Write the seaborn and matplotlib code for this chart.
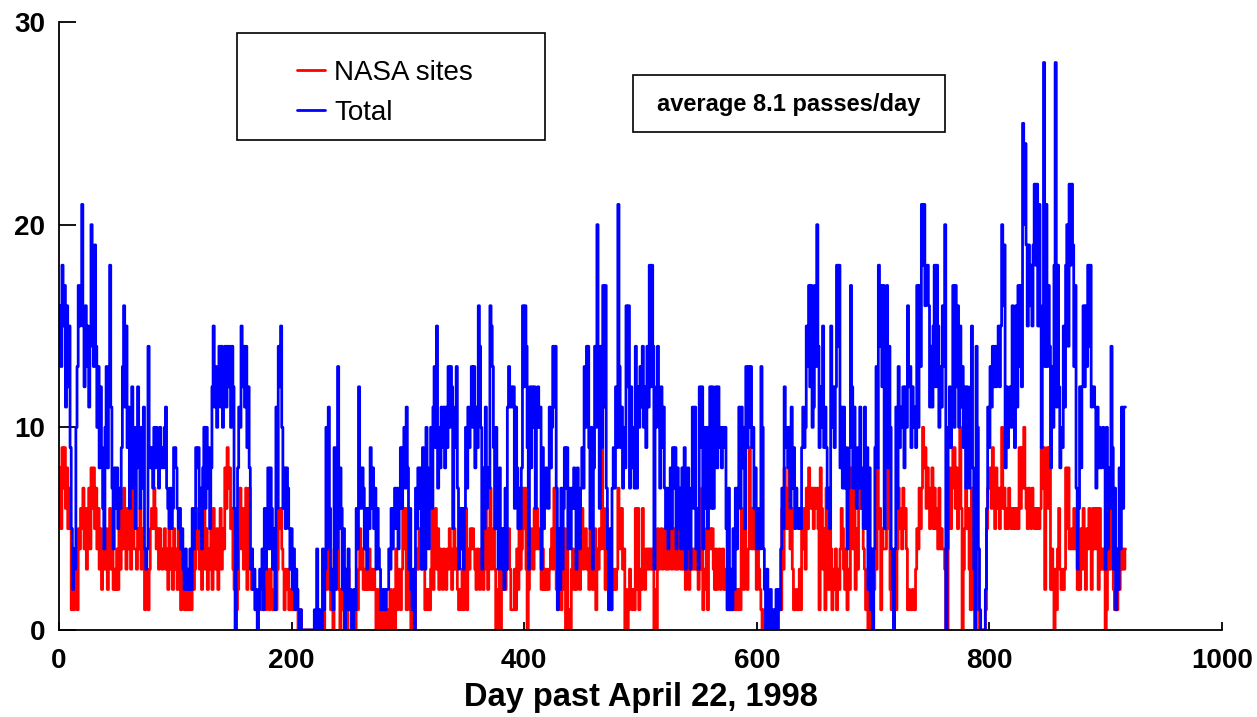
import numpy as np
import pandas as pd
import matplotlib
matplotlib.use("Agg")
import matplotlib.pyplot as plt
import seaborn as sns
from matplotlib.patches import Rectangle

series_names = ["NASA sites", "Total"]
series_colors = ["#ff0000", "#0000ff"]
x_ticks = [0, 200, 400, 600, 800, 1000]
y_ticks = [0, 10, 20, 30]
x_label = "Day past April 22, 1998"
note = "average 8.1 passes/day"

# passes per day (day 0 .. 917)
total = [
    14, 16, 13, 18, 15, 17, 11, 16, 12, 15,
    9, 5, 2, 4, 3, 10, 13, 17, 15, 16,
    21, 15, 12, 16, 13, 15, 11, 14, 20, 16,
    13, 19, 14, 10, 13, 8, 12, 9, 6, 4,
    10, 13, 8, 12, 18, 11, 7, 4, 8, 6,
    8, 5, 7, 6, 9, 13, 16, 11, 15, 9,
    11, 6, 9, 12, 7, 10, 5, 8, 12, 9,
    6, 10, 7, 11, 4, 3, 4, 14, 9, 8,
    9, 7, 10, 8, 10, 9, 7, 10, 8, 9,
    8, 10, 11, 7, 6, 5, 7, 5, 6, 9,
    9, 8, 6, 5, 6, 4, 5, 3, 2, 4,
    2, 3, 2, 4, 2, 6, 4, 5, 9, 8,
    9, 5, 7, 4, 8, 10, 6, 10, 7, 9,
    5, 8, 12, 15, 11, 13, 10, 12, 14, 11,
    14, 10, 13, 14, 11, 14, 12, 14, 10, 14,
    12, 6, 0, 3, 8, 11, 10, 15, 12, 14,
    11, 14, 9, 12, 8, 3, 4, 2, 3, 1,
    2, 0, 1, 3, 2, 4, 1, 6, 3, 5,
    8, 4, 8, 6, 3, 5, 1, 11, 6, 14,
    12, 15, 10, 6, 8, 5, 8, 7, 5, 3,
    5, 2, 4, 1, 3, 2, 1, 0, 1, 0,
    0, 0, 0, 0, 0, 0, 0, 0, 0, 0,
    1, 0, 4, 1, 0, 1, 0, 4, 1, 3,
    10, 4, 11, 6, 2, 3, 1, 9, 2, 4,
    13, 5, 8, 6, 2, 5, 0, 3, 1, 4,
    1, 2, 0, 0, 2, 1, 6, 4, 12, 8,
    6, 8, 7, 4, 6, 3, 6, 5, 9, 6,
    8, 5, 7, 3, 6, 4, 3, 1, 2, 1,
    2, 1, 2, 2, 4, 3, 6, 4, 6, 7,
    5, 7, 4, 6, 9, 6, 9, 10, 7, 11,
    8, 3, 6, 2, 1, 3, 0, 7, 5, 8,
    6, 8, 3, 9, 5, 3, 10, 8, 4, 7,
    10, 6, 11, 13, 9, 15, 7, 10, 8, 11,
    9, 11, 8, 11, 9, 13, 10, 13, 12, 5,
    9, 11, 13, 7, 3, 6, 4, 6, 3, 6,
    10, 7, 11, 9, 11, 13, 10, 13, 8, 11,
    9, 16, 14, 10, 3, 8, 5, 11, 6, 8,
    7, 16, 15, 13, 9, 5, 10, 6, 3, 8,
    5, 3, 5, 2, 7, 3, 11, 13, 11, 12,
    11, 12, 6, 11, 8, 5, 7, 5, 8, 16,
    12, 16, 14, 9, 3, 12, 8, 12, 10, 12,
    6, 10, 12, 10, 11, 3, 9, 5, 6, 8,
    7, 6, 11, 8, 10, 14, 11, 14, 7, 1,
    5, 2, 7, 3, 6, 9, 7, 9, 4, 7,
    4, 7, 6, 8, 6, 3, 8, 5, 4, 7,
    9, 7, 13, 10, 14, 14, 9, 5, 10, 3,
    8, 14, 10, 20, 13, 6, 14, 9, 17, 11,
    17, 7, 4, 1, 5, 1, 7, 9, 7, 12,
    9, 21, 13, 9, 11, 7, 10, 8, 16, 12,
    16, 7, 12, 8, 10, 7, 14, 7, 12, 10,
    13, 11, 14, 10, 12, 9, 14, 11, 18, 12,
    18, 14, 3, 10, 12, 14, 10, 7, 12, 9,
    11, 7, 5, 7, 4, 6, 8, 5, 9, 7,
    9, 4, 8, 5, 7, 4, 8, 4, 9, 3,
    6, 8, 4, 3, 7, 11, 6, 11, 4, 6,
    3, 12, 9, 12, 4, 10, 6, 10, 5, 8,
    12, 6, 12, 6, 9, 12, 8, 12, 9, 10,
    8, 10, 9, 10, 5, 1, 7, 1, 3, 1,
    5, 2, 7, 4, 7, 11, 6, 11, 8, 10,
    5, 13, 9, 13, 10, 13, 9, 10, 6, 8,
    4, 6, 5, 4, 13, 10, 4, 2, 0, 3,
    1, 0, 2, 0, 1, 0, 1, 2, 0, 2,
    1, 4, 7, 5, 12, 9, 10, 8, 10, 6,
    11, 7, 9, 5, 7, 6, 5, 6, 5, 9,
    11, 9, 10, 15, 13, 17, 12, 17, 10, 11,
    17, 13, 20, 14, 9, 12, 10, 15, 9, 11,
    9, 6, 7, 5, 15, 10, 12, 9, 12, 18,
    14, 18, 8, 11, 7, 11, 7, 9, 4, 7,
    9, 17, 12, 7, 11, 8, 6, 9, 7, 11,
    8, 6, 5, 11, 5, 9, 2, 8, 1, 4,
    0, 4, 9, 13, 8, 18, 14, 17, 12, 17,
    5, 12, 17, 8, 14, 10, 4, 2, 0, 4,
    11, 6, 13, 9, 11, 10, 12, 8, 12, 10,
    16, 12, 13, 9, 12, 10, 11, 9, 17, 10,
    17, 13, 21, 18, 21, 16, 17, 18, 16, 11,
    14, 11, 15, 18, 12, 18, 15, 10, 13, 11,
    16, 13, 20, 0, 4, 10, 12, 9, 11, 17,
    10, 17, 12, 16, 10, 15, 11, 13, 9, 12,
    7, 12, 9, 7, 12, 15, 8, 3, 0, 14,
    10, 4, 1, 0, 0, 0, 0, 2, 6, 11,
    9, 13, 11, 14, 12, 14, 12, 13, 15, 12,
    15, 20, 16, 19, 8, 12, 9, 11, 12, 10,
    16, 12, 9, 16, 11, 17, 13, 17, 12, 25,
    20, 24, 19, 15, 19, 16, 18, 15, 19, 22,
    18, 22, 15, 21, 15, 9, 16, 28, 13, 21,
    13, 17, 14, 8, 13, 10, 18, 28, 11, 18,
    12, 8, 10, 9, 15, 11, 18, 20, 14, 22,
    18, 22, 19, 13, 17, 7, 3, 6, 12, 8,
    12, 16, 12, 16, 13, 18, 14, 18, 11, 12,
    12, 11, 7, 11, 8, 10, 8, 9, 10, 8,
    3, 10, 4, 8, 6, 14, 9, 3, 7, 1,
    4, 2, 8, 4, 11, 6, 11, 11,
]

nasa = [
    6, 8, 5, 9, 7, 9, 6, 8, 5, 7,
    5, 1, 2, 1, 3, 3, 1, 5, 4, 6,
    5, 7, 4, 6, 3, 5, 7, 4, 8, 6,
    8, 5, 7, 4, 6, 3, 5, 2, 4, 3,
    3, 5, 2, 4, 6, 3, 5, 2, 3, 2,
    4, 2, 5, 3, 6, 4, 7, 5, 3, 6,
    4, 6, 3, 5, 7, 4, 4, 3, 5, 4,
    6, 3, 5, 4, 1, 2, 3, 1, 3, 5,
    6, 5, 7, 6, 4, 5, 3, 5, 4, 3,
    4, 5, 3, 4, 2, 5, 3, 4, 2, 5,
    3, 4, 2, 5, 3, 1, 4, 2, 1, 3,
    1, 2, 1, 3, 1, 4, 2, 3, 5, 4,
    6, 3, 5, 2, 4, 6, 3, 5, 2, 4,
    3, 5, 2, 6, 4, 3, 5, 2, 4, 6,
    3, 5, 4, 8, 6, 9, 7, 8, 5, 6,
    3, 2, 0, 1, 2, 5, 7, 4, 6, 3,
    5, 7, 2, 4, 7, 3, 2, 2, 2, 1,
    1, 0, 1, 2, 1, 3, 1, 2, 1, 3,
    2, 1, 3, 2, 1, 1, 1, 1, 3, 6,
    5, 6, 4, 3, 1, 3, 2, 3, 1, 2,
    1, 2, 1, 1, 2, 1, 0, 0, 1, 0,
    0, 0, 0, 0, 0, 0, 0, 0, 0, 0,
    0, 0, 1, 0, 0, 0, 0, 1, 0, 2,
    2, 3, 4, 2, 1, 2, 0, 4, 2, 4,
    5, 2, 0, 2, 1, 1, 0, 2, 0, 3,
    1, 1, 0, 0, 1, 0, 2, 1, 3, 5,
    3, 4, 2, 3, 2, 3, 2, 4, 2, 3,
    2, 3, 2, 0, 2, 1, 0, 0, 1, 0,
    1, 0, 1, 0, 1, 2, 0, 1, 2, 0,
    4, 1, 3, 2, 1, 3, 6, 4, 6, 1,
    2, 3, 1, 0, 1, 1, 0, 3, 4, 3,
    5, 4, 3, 4, 5, 1, 2, 1, 2, 1,
    3, 6, 2, 5, 6, 3, 5, 2, 4, 3,
    2, 4, 3, 2, 4, 3, 5, 4, 2, 3,
    5, 3, 4, 2, 1, 2, 1, 3, 1, 2,
    6, 1, 4, 3, 5, 4, 5, 4, 3, 2,
    4, 3, 2, 4, 3, 2, 3, 7, 4, 2,
    5, 7, 3, 4, 5, 3, 0, 0, 2, 3,
    0, 3, 2, 2, 2, 3, 4, 5, 3, 1,
    1, 1, 3, 1, 4, 2, 5, 3, 4, 7,
    5, 7, 3, 0, 2, 3, 5, 4, 3, 6,
    4, 6, 4, 5, 4, 2, 4, 2, 3, 2,
    3, 2, 3, 4, 5, 3, 7, 4, 2, 1,
    3, 2, 1, 3, 2, 5, 0, 4, 0, 1,
    0, 3, 4, 2, 3, 2, 4, 3, 2, 4,
    6, 3, 4, 5, 3, 4, 2, 5, 3, 2,
    4, 5, 1, 4, 3, 5, 4, 9, 6, 4,
    2, 6, 3, 1, 4, 1, 3, 2, 3, 2,
    3, 7, 5, 4, 6, 3, 4, 0, 2, 0,
    1, 3, 2, 1, 2, 1, 6, 2, 6, 1,
    3, 2, 6, 3, 2, 4, 3, 4, 3, 4,
    3, 4, 0, 2, 0, 5, 3, 4, 5, 3,
    4, 5, 3, 4, 3, 4, 5, 3, 4, 5,
    3, 4, 3, 5, 4, 3, 4, 3, 4, 2,
    4, 5, 2, 3, 4, 3, 4, 3, 4, 3,
    2, 4, 3, 7, 1, 3, 2, 5, 1, 4,
    5, 4, 5, 3, 2, 4, 2, 3, 4, 2,
    3, 4, 2, 3, 2, 1, 1, 1, 1, 1,
    1, 2, 1, 2, 1, 2, 1, 6, 4, 2,
    5, 3, 2, 4, 9, 5, 4, 6, 4, 5,
    2, 4, 3, 2, 1, 0, 1, 0, 0, 1,
    0, 0, 1, 0, 0, 0, 1, 0, 0, 1,
    1, 1, 6, 3, 8, 7, 5, 6, 9, 4,
    6, 3, 1, 1, 2, 1, 1, 3, 1, 5,
    4, 6, 3, 7, 5, 8, 7, 6, 7, 5,
    7, 6, 7, 5, 1, 8, 6, 3, 5, 1,
    7, 4, 2, 5, 4, 1, 3, 2, 4, 1,
    3, 2, 4, 6, 5, 3, 2, 4, 1, 3,
    2, 8, 6, 4, 7, 2, 5, 3, 6, 7,
    6, 6, 4, 3, 1, 2, 0, 3, 1, 0,
    0, 2, 4, 3, 8, 5, 6, 1, 5, 4,
    4, 4, 5, 8, 6, 2, 1, 2, 0, 1,
    1, 4, 7, 5, 6, 4, 7, 5, 6, 4,
    1, 2, 1, 1, 2, 1, 1, 3, 5, 4,
    7, 5, 7, 10, 8, 9, 6, 8, 7, 5,
    6, 8, 5, 7, 5, 6, 4, 7, 4, 5,
    4, 4, 3, 0, 0, 6, 8, 5, 7, 9,
    9, 6, 8, 5, 7, 10, 6, 0, 3, 5,
    7, 5, 6, 3, 1, 7, 4, 1, 0, 5,
    3, 1, 0, 0, 0, 0, 0, 1, 5, 7,
    7, 8, 6, 9, 7, 5, 8, 6, 7, 5,
    7, 10, 6, 7, 5, 6, 5, 7, 6, 5,
    6, 5, 6, 5, 6, 5, 9, 6, 9, 7,
    10, 7, 6, 5, 7, 6, 5, 7, 6, 5,
    6, 5, 6, 5, 6, 9, 7, 9, 2, 8,
    9, 6, 9, 2, 4, 2, 0, 3, 1, 4,
    6, 3, 2, 3, 2, 3, 8, 5, 8, 4,
    4, 5, 4, 6, 4, 5, 2, 3, 2, 5,
    3, 6, 4, 2, 5, 4, 6, 5, 2, 6,
    4, 6, 4, 6, 2, 6, 3, 4, 3, 4,
    0, 1, 3, 4, 3, 7, 4, 2, 1, 1,
    1, 2, 2, 4, 3, 4, 3, 4,
]

sns.set_theme(style="white")
plt.rcParams["font.family"] = ["Liberation Sans", "DejaVu Sans"]
plt.rcParams["text.color"] = "black"
plt.rcParams["axes.labelcolor"] = "black"
plt.rcParams["xtick.color"] = "black"
plt.rcParams["ytick.color"] = "black"

W, H = 1257, 717
fig = plt.figure(figsize=(W / 100, H / 100), dpi=100)
fig.patch.set_facecolor("white")
ax = fig.add_axes([59 / W, 1 - 630 / H, 1163 / W, 608 / H])
ax.set_facecolor("white")

df = pd.DataFrame({"day": np.arange(len(total)), "NASA sites": nasa, "Total": total})
for name, color in zip(series_names, series_colors):
    sns.lineplot(data=df, x="day", y=name, ax=ax, color=color, lw=2.0,
                 drawstyle="steps-mid", label=name, estimator=None)

ax.set_xlim(0, 1000)
ax.set_ylim(0, 30)
ax.set_xticks(x_ticks)
ax.set_yticks(y_ticks)
ax.set_ylabel("")
ax.set_xlabel(x_label, fontsize=23.5, fontweight="bold", labelpad=6, color="black")
for s in ["top", "right"]:
    ax.spines[s].set_visible(False)
for s in ["left", "bottom"]:
    ax.spines[s].set_color("black")
    ax.spines[s].set_linewidth(1.3)
ax.tick_params(axis="y", direction="in", length=12, width=1.3, pad=10,
               labelsize=20, colors="black", left=True)
ax.tick_params(axis="x", direction="in", length=6, width=1.3, pad=13,
               labelsize=20, colors="black", bottom=True)
for lab in ax.get_xticklabels() + ax.get_yticklabels():
    lab.set_fontweight("bold")

# legend frame and legend
fig.add_artist(Rectangle((237 / W, 1 - 140 / H), (545 - 237) / W, (140 - 33) / H,
                         transform=fig.transFigure, fill=False, ec="black", lw=1.2))
leg = ax.legend(loc="upper left", bbox_to_anchor=(297 / W, 1 - 60 / H),
                bbox_transform=fig.transFigure, frameon=False, fontsize=20,
                handlelength=1.0, handletextpad=0.35, labelspacing=0.5,
                borderpad=0, borderaxespad=0)
for line in leg.get_lines():
    line.set_linewidth(2.0)
for t in leg.get_texts():
    t.set_color("black")

# note box
fig.add_artist(Rectangle((633 / W, 1 - 132 / H), (945 - 633) / W, (132 - 75) / H,
                         transform=fig.transFigure, fill=False, ec="black", lw=1.2))
fig.text(789 / W, 1 - 104 / H, note, ha="center", va="center",
         fontsize=17, fontweight="bold", color="black")

fig.savefig("out.png", dpi=100)
